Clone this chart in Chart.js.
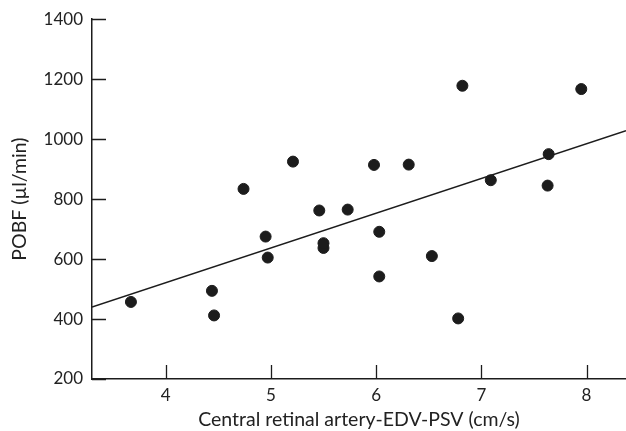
<!DOCTYPE html>
<html>
<head>
<meta charset="utf-8">
<script src="https://cdn.jsdelivr.net/npm/chart.js@4"></script>
<style>
  html, body { margin: 0; padding: 0; background: #fff; }
  #wrap { width: 626px; height: 431px; }
</style>
</head>
<body>
<div id="wrap"><canvas id="chart" width="626" height="431"></canvas></div>
<script>
// Data
var velocity = [3.67, 4.44, 4.46, 4.74, 4.95, 4.97, 5.21, 5.46, 5.50, 5.50, 5.73, 5.98, 6.03, 6.03, 6.31, 6.53, 6.78, 6.82, 7.09, 7.63, 7.64, 7.95];
var pobf = [457, 494, 412, 834, 675, 605, 925, 762, 637, 653, 765, 914, 691, 542, 915, 610, 402, 1178, 863, 845, 950, 1167];
// regression line end points
var fitX = [3.3, 8.375];
var fitY = [440, 1028];
var yTicks = [200, 400, 600, 800, 1000, 1200, 1400];
var xTicks = [4, 5, 6, 7, 8];

var ink = '#1c1c1c';
var font = 'Lato, "DejaVu Sans", sans-serif';

var points = velocity.map(function(v, i) { return {x: v, y: pobf[i]}; });
var fit = fitX.map(function(v, i) { return {x: v, y: fitY[i]}; });

// tick marks that point into the plot area
var innerTicks = {
    id: 'innerTicks',
    afterDatasetsDraw: function(chart) {
        var ctx = chart.ctx;
        var xs = chart.scales.x, ys = chart.scales.y;
        ctx.save();
        ctx.strokeStyle = ink;
        ctx.lineWidth = 1.3;
        ctx.beginPath();
        yTicks.forEach(function(t) {
            var py = Math.round(ys.getPixelForValue(t)) + 0.5;
            ctx.moveTo(xs.left, py);
            ctx.lineTo(xs.left + 14, py);
        });
        xTicks.forEach(function(t) {
            var px = Math.round(xs.getPixelForValue(t)) + 0.5;
            ctx.moveTo(px, ys.bottom);
            ctx.lineTo(px, ys.bottom - 14);
        });
        ctx.stroke();
        ctx.restore();
    }
};

new Chart(document.getElementById('chart'), {
    type: 'scatter',
    data: {
        datasets: [
            {
                data: points,
                backgroundColor: ink,
                borderColor: ink,
                pointRadius: 5.5,
                pointHoverRadius: 5.5,
                showLine: false
            },
            {
                data: fit,
                showLine: true,
                borderColor: ink,
                borderWidth: 1.5,
                pointRadius: 0,
                fill: false
            }
        ]
    },
    options: {
        responsive: false,
        animation: false,
        events: [],
        layout: { autoPadding: false, padding: { top: 19, right: 0, left: 0, bottom: 0 } },
        plugins: {
            legend: { display: false },
            tooltip: { enabled: false }
        },
        scales: {
            x: {
                type: 'linear',
                min: 3.3,
                max: 8.375,
                afterFit: function(s) { s.height = 52; s.paddingLeft = 0; s.paddingRight = 0; },
                afterBuildTicks: function(s) { s.ticks = xTicks.map(function(v) { return {value: v}; }); },
                border: { display: true, color: ink, width: 1.5 },
                grid: { display: false, drawTicks: false },
                ticks: {
                    color: '#222', font: { family: font, size: 17 }, padding: 6, maxRotation: 0,
                    callback: function(v) { return String(v); }
                },
                title: {
                    display: true,
                    text: 'Central retinal artery-EDV-PSV (cm/s)',
                    color: '#222',
                    font: { family: font, size: 19.5 },
                    padding: { top: 0, bottom: 0 }
                }
            },
            y: {
                min: 200,
                max: 1400,
                afterFit: function(s) { s.width = 92; },
                afterBuildTicks: function(s) { s.ticks = yTicks.map(function(v) { return {value: v}; }); },
                border: { display: true, color: ink, width: 1.5 },
                grid: { display: false, drawTicks: false },
                ticks: {
                    color: '#222', font: { family: font, size: 17 }, padding: 9,
                    callback: function(v) { return String(v); }
                },
                title: {
                    display: true,
                    text: 'POBF (µl/min)',
                    color: '#222',
                    font: { family: font, size: 19.5 },
                    padding: { top: 8, bottom: 4 }
                }
            }
        }
    },
    plugins: [innerTicks]
});
</script>
</body>
</html>
